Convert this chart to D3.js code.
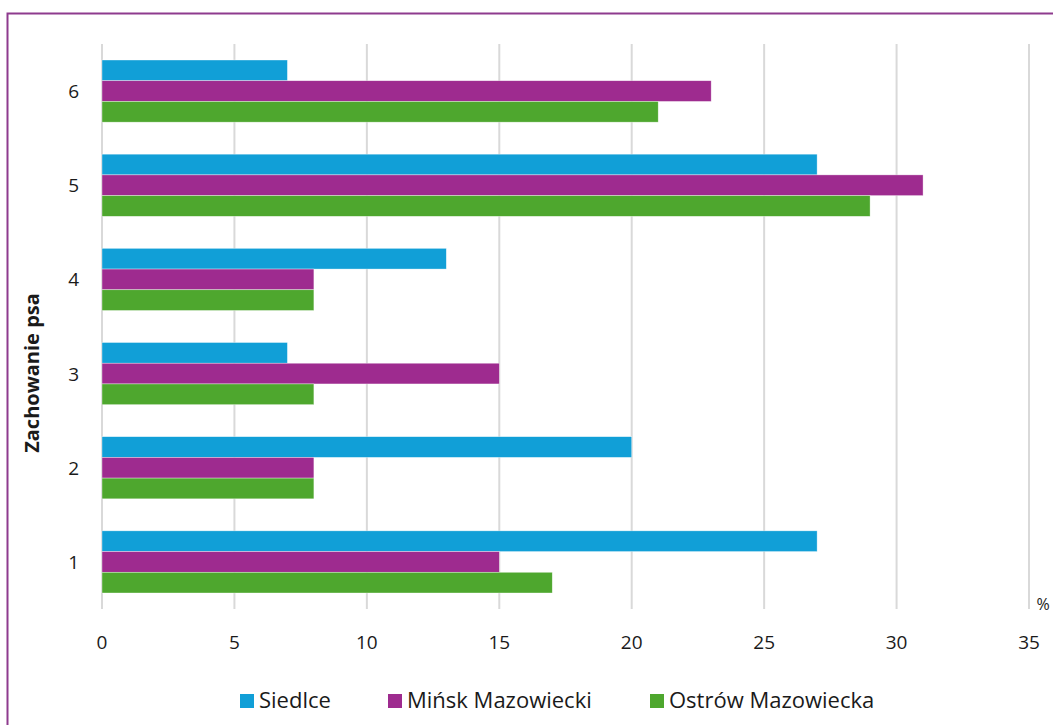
<!DOCTYPE html>
<html><head><meta charset="utf-8">
<script src="https://cdn.jsdelivr.net/npm/d3@7"></script>
<style>
body{margin:0;background:#fff;}
svg text{font-family:"Open Sans",Lato,sans-serif;fill:#1a1a1a;}
</style></head><body>
<svg id="c" width="1053" height="725"></svg>
<script>
const categories = ["1","2","3","4","5","6"];
const seriesNames = ["Siedlce","Mińsk Mazowiecki","Ostrów Mazowiecka"];
const siedlce = [27,20,7,13,27,7];
const minsk   = [15,8,15,8,31,23];
const ostrow  = [17,8,8,8,29,21];
const xTicks = [0,5,10,15,20,25,30,35];
const colors = ["#119fd7","#9e2b8f","#4ea72e"];
const seriesValues = [siedlce, minsk, ostrow];

const svg = d3.select("#c");
svg.append("rect").attr("x",7.5).attr("y",13.5).attr("width",1100).attr("height",800)
  .attr("fill","none").attr("stroke","#8e3b8e").attr("stroke-width",2);

const m = {left:102, right:1029, top:44, bottom:609};
const x = d3.scaleLinear().domain([0,35]).range([m.left,m.right]);
const y = d3.scaleBand().domain(categories.slice().reverse()).range([m.top,m.bottom]).paddingInner(0.34).paddingOuter(0.17);
const ySub = d3.scaleBand().domain(seriesNames).range([0,y.bandwidth()]);

svg.append("g").selectAll("line").data(xTicks).join("line")
  .attr("x1",d=>x(d)).attr("x2",d=>x(d)).attr("y1",m.top).attr("y2",m.bottom)
  .attr("stroke","#d9d9d9").attr("stroke-width",2);

categories.forEach((c,i)=>{
  seriesNames.forEach((s,j)=>{
    svg.append("rect").attr("x",x(0)).attr("y",y(c)+ySub(s))
      .attr("width",x(seriesValues[j][i])-x(0)).attr("height",ySub.bandwidth())
      .attr("fill",colors[j]).attr("stroke","#ffffff").attr("stroke-width",0.6).attr("stroke-opacity",0.6);
  });
});

svg.append("g").selectAll("text").data(xTicks).join("text")
  .attr("x",d=>x(d)).attr("y",649).attr("text-anchor","middle").attr("font-size",19).text(d=>d);
svg.append("g").selectAll("text").data(categories).join("text")
  .attr("x",79).attr("y",d=>y(d)+y.bandwidth()/2+7).attr("text-anchor","end").attr("font-size",19).text(d=>d);

svg.append("text").attr("transform","translate(39,373) rotate(-90)").attr("text-anchor","middle")
  .attr("font-size",20).attr("font-weight","bold").text("Zachowanie psa");
svg.append("text").attr("x",1043).attr("y",610).attr("text-anchor","middle").attr("font-size",16).text("%");

const legX = [240,388,650];
seriesNames.forEach((s,j)=>{
  svg.append("rect").attr("x",legX[j]).attr("y",694).attr("width",14).attr("height",14).attr("fill",colors[j]);
  svg.append("text").attr("x",legX[j]+19).attr("y",708).attr("font-size",22).text(s);
});
</script></body></html>
